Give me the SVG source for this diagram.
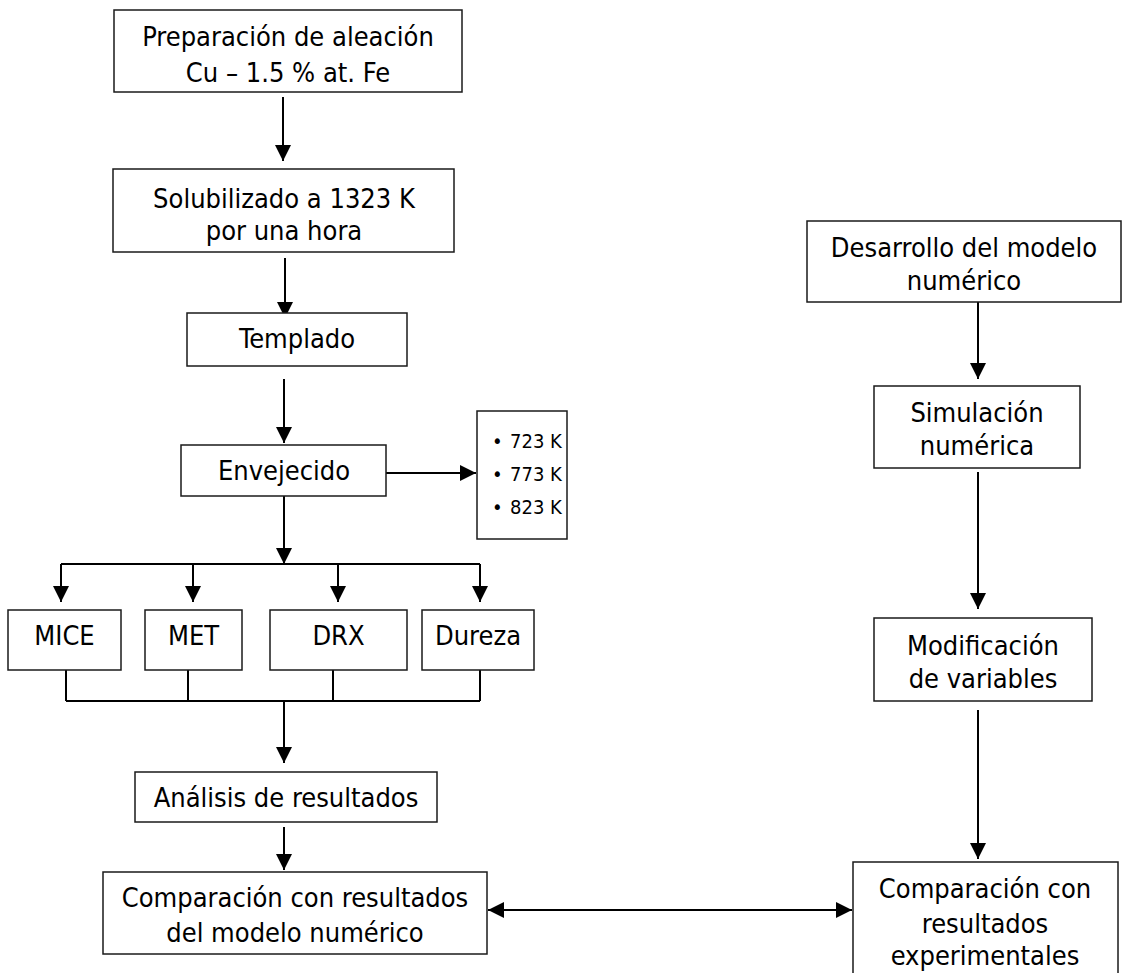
<svg xmlns="http://www.w3.org/2000/svg" width="1128" height="973" viewBox="0 0 1128 973">
<style>
  .box { fill: #ffffff; stroke: #1a1a1a; stroke-width: 1.5; }
  .lbl { font-family: "DejaVu Sans Condensed", "DejaVu Sans", sans-serif; font-stretch: condensed; font-size: 27px; fill: #000000; text-anchor: middle; }
  .bl { text-anchor: start; font-size: 20px; }
  .con { fill: none; stroke: #000000; stroke-width: 2; }
  .arr { marker-end: url(#ah); }
</style>
<defs>
  <marker id="ah" viewBox="0 0 16 16" markerUnits="userSpaceOnUse" markerWidth="16" markerHeight="16" refX="16" refY="8" orient="auto-start-reverse">
    <path d="M0,0 L16,8 L0,16 Z" fill="#000000"/>
  </marker>
</defs>
<rect width="1128" height="973" fill="#ffffff"/>

<g id="connectors">
  <path class="con arr" d="M283,97 V161"/>
  <path class="con arr" d="M285,258 V318"/>
  <path class="con arr" d="M284,379 V443"/>
  <path class="con arr" d="M386,473 H476"/>
  <path class="con arr" d="M284,496 V564"/>
  <path class="con" d="M61,564 H480"/>
  <path class="con arr" d="M61,564 V602"/>
  <path class="con arr" d="M193,564 V602"/>
  <path class="con arr" d="M338,564 V602"/>
  <path class="con arr" d="M480,564 V602"/>
  <path class="con" d="M66,670 V701 M188,670 V701 M333,670 V701 M480,670 V701 M66,701 H480"/>
  <path class="con arr" d="M284,701 V763"/>
  <path class="con arr" d="M284,827 V870"/>
  <path class="con arr" d="M488,910 H852" style="marker-start:url(#ah)"/>
  <path class="con arr" d="M978,298 V379"/>
  <path class="con arr" d="M978,472 V609"/>
  <path class="con arr" d="M978,710 V859"/>
</g>

<g id="n-preparacion">
  <rect class="box" x="114" y="10" width="348" height="82"/>
  <text class="lbl" x="288" y="46">Preparación de aleación</text>
  <text class="lbl" x="288" y="82">Cu – 1.5 % at.  Fe</text>
</g>
<g id="n-solubilizado">
  <rect class="box" x="113" y="169" width="341" height="83"/>
  <text class="lbl" x="284" y="208">Solubilizado a 1323 K</text>
  <text class="lbl" x="284" y="240">por una hora</text>
</g>
<g id="n-templado">
  <rect class="box" x="187" y="313" width="220" height="53"/>
  <text class="lbl" x="297" y="348">Templado</text>
</g>
<g id="n-envejecido">
  <rect class="box" x="181" y="445" width="205" height="51"/>
  <text class="lbl" x="284" y="480">Envejecido</text>
</g>
<g id="n-temperaturas">
  <rect class="box" x="477" y="411" width="90" height="128"/>
  <text class="lbl bl" x="492" y="448">•</text>
  <text class="lbl bl" x="510" y="448">723 K</text>
  <text class="lbl bl" x="492" y="481">•</text>
  <text class="lbl bl" x="510" y="481">773 K</text>
  <text class="lbl bl" x="492" y="514">•</text>
  <text class="lbl bl" x="510" y="514">823 K</text>
</g>
<g id="n-mice">
  <rect class="box" x="8" y="610" width="113" height="60"/>
  <text class="lbl" x="64.5" y="645">MICE</text>
</g>
<g id="n-met">
  <rect class="box" x="145" y="610" width="97" height="60"/>
  <text class="lbl" x="193.5" y="645">MET</text>
</g>
<g id="n-drx">
  <rect class="box" x="270" y="610" width="137" height="60"/>
  <text class="lbl" x="338.5" y="645">DRX</text>
</g>
<g id="n-dureza">
  <rect class="box" x="422" y="610" width="112" height="60"/>
  <text class="lbl" x="478" y="645">Dureza</text>
</g>
<g id="n-analisis">
  <rect class="box" x="135" y="772" width="302" height="50"/>
  <text class="lbl" x="286" y="807">Análisis de resultados</text>
</g>
<g id="n-comparacion-modelo">
  <rect class="box" x="103" y="872" width="384" height="82"/>
  <text class="lbl" x="295" y="907">Comparación con resultados</text>
  <text class="lbl" x="295" y="942">del modelo numérico</text>
</g>
<g id="n-desarrollo">
  <rect class="box" x="807" y="221" width="314" height="81"/>
  <text class="lbl" x="964" y="257">Desarrollo del modelo</text>
  <text class="lbl" x="964" y="290">numérico</text>
</g>
<g id="n-simulacion">
  <rect class="box" x="874" y="386" width="206" height="82"/>
  <text class="lbl" x="977" y="422">Simulación</text>
  <text class="lbl" x="977" y="455">numérica</text>
</g>
<g id="n-modificacion">
  <rect class="box" x="874" y="618" width="218" height="83"/>
  <text class="lbl" x="983" y="655">Modificación</text>
  <text class="lbl" x="983" y="688">de variables</text>
</g>
<g id="n-comparacion-exp">
  <rect class="box" x="853" y="862" width="265" height="130"/>
  <text class="lbl" x="985" y="898">Comparación con</text>
  <text class="lbl" x="985" y="933">resultados</text>
  <text class="lbl" x="985" y="965">experimentales</text>
</g>
</svg>
